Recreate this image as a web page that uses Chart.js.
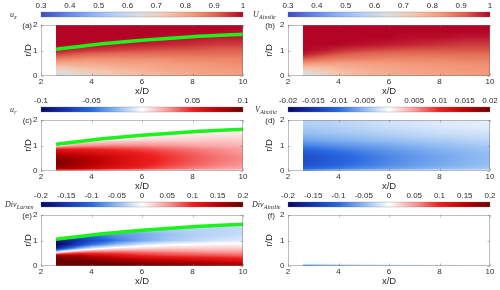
<!DOCTYPE html>
<html>
<head>
<meta charset="utf-8">
<script src="https://cdn.jsdelivr.net/npm/chart.js@4.4.1/dist/chart.umd.min.js"></script>
<style>
  html, body { margin: 0; padding: 0; background: #fff; }
  #fig { position: relative; width: 500px; height: 290px; overflow: hidden; }
  #fig canvas { position: absolute; }
</style>
</head>
<body>
<div id="fig"></div>
<script>
// grid the fields were read on (x/D columns, r/D rows)
const xGrid = [2.6, 3, 3.5, 4, 5, 6, 7, 8, 9, 10];
const rGrid = [0, 0.1, 0.25, 0.4, 0.55, 0.7, 0.85, 1, 1.25, 1.5, 1.75, 2];

// (a) u_z, Larsen
const uzLarsen = [
  [0.60, 0.63, 0.66, 0.69, 0.73, 0.76, 0.78, 0.80, 0.81, 0.82],
  [0.63, 0.65, 0.68, 0.70, 0.74, 0.76, 0.78, 0.80, 0.81, 0.82],
  [0.69, 0.70, 0.72, 0.74, 0.76, 0.78, 0.80, 0.81, 0.82, 0.83],
  [0.76, 0.76, 0.77, 0.77, 0.79, 0.80, 0.81, 0.82, 0.83, 0.84],
  [0.82, 0.81, 0.81, 0.81, 0.82, 0.82, 0.83, 0.84, 0.84, 0.85],
  [0.88, 0.87, 0.86, 0.85, 0.85, 0.85, 0.85, 0.86, 0.86, 0.86],
  [0.94, 0.93, 0.91, 0.90, 0.89, 0.89, 0.89, 0.89, 0.89, 0.89],
  [0.98, 0.97, 0.96, 0.95, 0.94, 0.93, 0.92, 0.92, 0.91, 0.91],
  [1, 1, 1, 1, 0.99, 0.98, 0.97, 0.96, 0.95, 0.95],
  [1, 1, 1, 1, 1, 1, 0.99, 0.99, 0.98, 0.98],
  [1, 1, 1, 1, 1, 1, 1, 1, 1, 0.99],
  [1, 1, 1, 1, 1, 1, 1, 1, 1, 1]
];
// (b) U, Ainslie
const uAinslie = [
  [0.60, 0.64, 0.69, 0.73, 0.77, 0.79, 0.80, 0.81, 0.82, 0.83],
  [0.64, 0.67, 0.71, 0.74, 0.77, 0.79, 0.80, 0.81, 0.82, 0.83],
  [0.71, 0.72, 0.74, 0.76, 0.78, 0.80, 0.81, 0.82, 0.83, 0.83],
  [0.79, 0.78, 0.78, 0.79, 0.80, 0.81, 0.82, 0.83, 0.83, 0.84],
  [0.86, 0.85, 0.84, 0.83, 0.83, 0.83, 0.84, 0.84, 0.85, 0.85],
  [0.93, 0.91, 0.89, 0.88, 0.87, 0.86, 0.86, 0.86, 0.87, 0.87],
  [0.98, 0.96, 0.94, 0.92, 0.90, 0.89, 0.89, 0.89, 0.89, 0.89],
  [1, 0.99, 0.98, 0.96, 0.94, 0.93, 0.92, 0.92, 0.92, 0.92],
  [1, 1, 1, 1, 0.99, 0.98, 0.97, 0.96, 0.95, 0.95],
  [1, 1, 1, 1, 1, 1, 0.99, 0.99, 0.98, 0.98],
  [1, 1, 1, 1, 1, 1, 1, 1, 1, 1],
  [1, 1, 1, 1, 1, 1, 1, 1, 1, 1]
];
// (c) u_r, Larsen
const urLarsen = [
  [0.010, 0.010, 0.008, 0.007, 0.005, 0.004, 0.003, 0.003, 0.002, 0.002],
  [0.085, 0.080, 0.074, 0.068, 0.056, 0.046, 0.038, 0.031, 0.026, 0.022],
  [0.095, 0.090, 0.083, 0.076, 0.064, 0.053, 0.044, 0.037, 0.031, 0.026],
  [0.095, 0.090, 0.084, 0.078, 0.066, 0.055, 0.046, 0.039, 0.033, 0.028],
  [0.088, 0.083, 0.079, 0.074, 0.064, 0.054, 0.046, 0.039, 0.033, 0.028],
  [0.074, 0.070, 0.067, 0.064, 0.057, 0.050, 0.043, 0.037, 0.031, 0.026],
  [0.055, 0.053, 0.052, 0.050, 0.046, 0.042, 0.037, 0.032, 0.028, 0.024],
  [0.006, 0.016, 0.024, 0.027, 0.029, 0.028, 0.026, 0.023, 0.021, 0.019],
  [0, 0, 0, 0.001, 0.004, 0.008, 0.010, 0.011, 0.012, 0.012],
  [0, 0, 0, 0, 0, 0.001, 0.002, 0.003, 0.004, 0.005],
  [0, 0, 0, 0, 0, 0, 0, 0, 0, 0],
  [0, 0, 0, 0, 0, 0, 0, 0, 0, 0]
];
// (d) V, Ainslie
const vAinslie = [
  [-0.006, -0.004, -0.003, -0.002, -0.001, -0.001, 0, 0, 0, 0],
  [-0.0105, -0.0101, -0.0095, -0.0089, -0.0078, -0.0068, -0.0059, -0.0051, -0.0045, -0.0039],
  [-0.0122, -0.0118, -0.0111, -0.0104, -0.0091, -0.0079, -0.0069, -0.0060, -0.0052, -0.0046],
  [-0.0126, -0.0122, -0.0115, -0.0108, -0.0094, -0.0082, -0.0071, -0.0062, -0.0054, -0.0047],
  [-0.0124, -0.0120, -0.0113, -0.0106, -0.0093, -0.0081, -0.0071, -0.0062, -0.0054, -0.0047],
  [-0.0116, -0.0112, -0.0106, -0.0100, -0.0088, -0.0077, -0.0068, -0.0059, -0.0052, -0.0045],
  [-0.0101, -0.0098, -0.0093, -0.0088, -0.0079, -0.0070, -0.0061, -0.0054, -0.0048, -0.0042],
  [-0.0085, -0.0082, -0.0078, -0.0074, -0.0067, -0.0060, -0.0053, -0.0047, -0.0042, -0.0037],
  [-0.0060, -0.0058, -0.0056, -0.0053, -0.0048, -0.0043, -0.0038, -0.0034, -0.0031, -0.0028],
  [-0.0045, -0.0044, -0.0042, -0.0040, -0.0036, -0.0031, -0.0027, -0.0023, -0.0021, -0.0019],
  [-0.0036, -0.0035, -0.0034, -0.0032, -0.0028, -0.0023, -0.0019, -0.0016, -0.0014, -0.0013],
  [-0.0032, -0.0031, -0.0030, -0.0028, -0.0024, -0.0020, -0.0016, -0.0013, -0.0012, -0.0011]
];
// (e) Div, Larsen (only drawn below the wake line)
const divLarsen = [
  [0.20, 0.20, 0.20, 0.20, 0.20, 0.20, 0.19, 0.18, 0.17, 0.16],
  [0.20, 0.20, 0.20, 0.20, 0.20, 0.19, 0.18, 0.17, 0.16, 0.15],
  [0.20, 0.20, 0.20, 0.19, 0.17, 0.15, 0.14, 0.13, 0.12, 0.11],
  [0.18, 0.17, 0.16, 0.14, 0.12, 0.10, 0.09, 0.085, 0.08, 0.075],
  [-0.02, 0.03, 0.06, 0.07, 0.07, 0.065, 0.06, 0.055, 0.05, 0.05],
  [-0.17, -0.12, -0.06, -0.02, 0.01, 0.02, 0.025, 0.025, 0.025, 0.025],
  [-0.20, -0.18, -0.14, -0.10, -0.05, -0.02, -0.005, 0, 0.005, 0.005],
  [-0.18, -0.17, -0.15, -0.13, -0.09, -0.06, -0.04, -0.03, -0.02, -0.015],
  [-0.12, -0.11, -0.10, -0.09, -0.07, -0.06, -0.045, -0.035, -0.03, -0.025],
  [-0.06, -0.05, -0.04, -0.035, -0.03, -0.03, -0.03, -0.03, -0.03, -0.025],
  [0, 0, 0, 0, 0, 0, 0, 0, 0, 0],
  [0, 0, 0, 0, 0, 0, 0, 0, 0, 0]
];
// (f) Div, Ainslie
const divAinslie = [
  [-0.08, -0.07, -0.055, -0.045, -0.03, -0.02, -0.012, -0.008, -0.005, -0.003],
  [-0.005, -0.004, -0.003, -0.002, -0.001, 0, 0, 0, 0, 0],
  [0, 0, 0, 0, 0, 0, 0, 0, 0, 0],
  [0, 0, 0, 0, 0, 0, 0, 0, 0, 0],
  [0, 0, 0, 0, 0, 0, 0, 0, 0, 0],
  [0, 0, 0, 0, 0, 0, 0, 0, 0, 0],
  [0, 0, 0, 0, 0, 0, 0, 0, 0, 0],
  [0, 0, 0, 0, 0, 0, 0, 0, 0, 0],
  [0, 0, 0, 0, 0, 0, 0, 0, 0, 0],
  [0, 0, 0, 0, 0, 0, 0, 0, 0, 0],
  [0, 0, 0, 0, 0, 0, 0, 0, 0, 0],
  [0, 0, 0, 0, 0, 0, 0, 0, 0, 0]
];

// wake boundary (green line)
const wakeX = [2.6, 4, 6, 8, 10];
const wakeR = [1.05, 1.22, 1.40, 1.54, 1.64];

// tick labels
const xTicks = [2, 4, 6, 8, 10];
const rTicks = [0, 1, 2];
const cbTicksU = [0.3, 0.4, 0.5, 0.6, 0.7, 0.8, 0.9, 1];
const cbTicksUr = [-0.1, -0.05, 0, 0.05, 0.1];
const cbTicksV = [-0.02, -0.015, -0.01, -0.005, 0, 0.005, 0.01, 0.015, 0.02];
const cbTicksDiv = [-0.2, -0.15, -0.1, -0.05, 0, 0.05, 0.1, 0.15, 0.2];

// colour maps
const coolwarm = [
  [0, 59, 76, 192], [0.125, 98, 130, 234], [0.25, 141, 176, 254], [0.375, 184, 208, 249],
  [0.5, 221, 221, 221], [0.625, 245, 196, 173], [0.75, 244, 154, 123], [0.875, 222, 96, 77], [1, 180, 4, 38]
];
const blueRed = [
  [0, 8, 8, 96], [0.125, 20, 50, 175], [0.25, 40, 105, 225], [0.375, 140, 185, 242],
  [0.5, 255, 255, 255], [0.625, 250, 155, 155], [0.75, 238, 30, 30], [0.875, 190, 0, 0], [1, 110, 0, 0]
];

const SANS = '"Liberation Sans", Arial, sans-serif';
const SERIF = '"Liberation Serif", "Times New Roman", serif';
const TXT = '#2b2b2b';

const panels = [
  { tag: '(a)', col: 0, row: 0, field: uzLarsen, range: [0.3, 1], stops: coolwarm, cb: cbTicksU, sym: ['u', 'z'], symX: 10, wake: true, mask: false },
  { tag: '(b)', col: 1, row: 0, field: uAinslie, range: [0.3, 1], stops: coolwarm, cb: cbTicksU, sym: ['U', 'Ainslie'], symX: 6, wake: false, mask: false },
  { tag: '(c)', col: 0, row: 1, field: urLarsen, range: [-0.1, 0.1], stops: blueRed, cb: cbTicksUr, sym: ['u', 'r'], symX: 10, wake: true, mask: true },
  { tag: '(d)', col: 1, row: 1, field: vAinslie, range: [-0.02, 0.02], stops: blueRed, cb: cbTicksV, sym: ['V', 'Ainslie'], symX: 8, wake: false, mask: false },
  { tag: '(e)', col: 0, row: 2, field: divLarsen, range: [-0.2, 0.2], stops: blueRed, cb: cbTicksDiv, sym: ['Div', 'Larsen'], symX: 5, wake: true, mask: true },
  { tag: '(f)', col: 1, row: 2, field: divAinslie, range: [-0.2, 0.2], stops: blueRed, cb: cbTicksDiv, sym: ['Div', 'Ainslie'], symX: 5, wake: false, mask: false }
];

function colour(stops, t) {
  t = Math.min(1, Math.max(0, t));
  let k = 0;
  while (k < stops.length - 2 && t > stops[k + 1][0]) k++;
  const a = stops[k], b = stops[k + 1];
  const f = (t - a[0]) / (b[0] - a[0]);
  return [1, 2, 3].map(i => Math.round(a[i] + (b[i] - a[i]) * f));
}

function cell(grid, v) {
  let k = 0;
  while (k < grid.length - 2 && v > grid[k + 1]) k++;
  const t = (v - grid[k]) / (grid[k + 1] - grid[k]);
  return [k, Math.min(1, Math.max(0, t))];
}

function sample(field, xv, rv) {
  const [i, tx] = cell(xGrid, xv);
  const [j, tr] = cell(rGrid, rv);
  const lo = field[j][i] * (1 - tx) + field[j][i + 1] * tx;
  const hi = field[j + 1][i] * (1 - tx) + field[j + 1][i + 1] * tx;
  return lo * (1 - tr) + hi * tr;
}

function wakeAt(xv) {
  const [i, t] = cell(wakeX, xv);
  return wakeR[i] * (1 - t) + wakeR[i + 1] * t;
}

function fieldPlugin(p) {
  return {
    id: 'field',
    beforeDatasetsDraw(chart) {
      const { ctx, scales: { x, y } } = chart;
      const left = Math.round(x.getPixelForValue(xGrid[0]));
      const right = Math.round(x.getPixelForValue(xGrid[xGrid.length - 1]));
      const top = Math.round(y.getPixelForValue(rGrid[rGrid.length - 1]));
      const bottom = Math.round(y.getPixelForValue(rGrid[0]));
      const w = right - left, h = bottom - top;
      const img = ctx.createImageData(w, h);
      for (let j = 0; j < h; j++) {
        const rv = y.getValueForPixel(top + j + 0.5);
        for (let i = 0; i < w; i++) {
          const xv = x.getValueForPixel(left + i + 0.5);
          const k = (j * w + i) * 4;
          if (p.mask && rv > wakeAt(xv)) continue;
          const v = sample(p.field, xv, rv);
          const c = colour(p.stops, (v - p.range[0]) / (p.range[1] - p.range[0]));
          img.data[k] = c[0]; img.data[k + 1] = c[1]; img.data[k + 2] = c[2]; img.data[k + 3] = 255;
        }
      }
      ctx.putImageData(img, left, top);
    },
    afterDatasetsDraw(chart) {
      const { ctx, chartArea: a, scales: { x, y } } = chart;
      ctx.save();
      ctx.strokeStyle = 'rgba(110,110,110,0.45)';
      ctx.lineWidth = 1;
      ctx.strokeRect(a.left + 0.5, a.top + 0.5, a.right - a.left - 1, a.bottom - a.top - 1);
      ctx.beginPath();
      x.ticks.forEach(t => {
        const px = Math.round(x.getPixelForValue(t.value)) + 0.5;
        ctx.moveTo(px, a.bottom); ctx.lineTo(px, a.bottom - 2.5);
        ctx.moveTo(px, a.top); ctx.lineTo(px, a.top + 2.5);
      });
      y.ticks.forEach(t => {
        const py = Math.round(y.getPixelForValue(t.value)) + 0.5;
        ctx.moveTo(a.left, py); ctx.lineTo(a.left + 2.5, py);
        ctx.moveTo(a.right, py); ctx.lineTo(a.right - 2.5, py);
      });
      ctx.stroke();
      ctx.fillStyle = TXT;
      ctx.font = '8px ' + SANS;
      ctx.textAlign = 'right';
      ctx.textBaseline = 'middle';
      ctx.fillText(p.tag, p.col === 0 ? 32 : 28, a.top + 0.5);
      ctx.restore();
    }
  };
}

function colourbarPlugin(p) {
  return {
    id: 'colourbar',
    beforeDatasetsDraw(chart) {
      const { ctx, chartArea: a, scales: { x } } = chart;
      for (let px = Math.round(a.left); px < Math.round(a.right); px++) {
        const c = colour(p.stops, (x.getValueForPixel(px + 0.5) - p.range[0]) / (p.range[1] - p.range[0]));
        ctx.fillStyle = 'rgb(' + c.join(',') + ')';
        ctx.fillRect(px, a.top, 1, a.bottom - a.top);
      }
      ctx.save();
      ctx.strokeStyle = 'rgba(120,120,120,0.5)';
      ctx.lineWidth = 0.6;
      ctx.strokeRect(a.left, a.top, a.right - a.left, a.bottom - a.top);
      ctx.restore();
    },
    afterDraw(chart) {
      const ctx = chart.ctx;
      ctx.save();
      ctx.fillStyle = TXT;
      ctx.textBaseline = 'alphabetic';
      ctx.textAlign = 'left';
      ctx.font = 'italic 8px ' + SERIF;
      ctx.fillText(p.sym[0], p.symX, 17);
      const w = ctx.measureText(p.sym[0]).width;
      ctx.font = 'italic 6px ' + SERIF;
      ctx.fillText(p.sym[1], p.symX + w + 0.3, 19);
      ctx.restore();
    }
  };
}

const fig = document.getElementById('fig');
function addCanvas(left, top, w, h) {
  const c = document.createElement('canvas');
  c.width = w; c.height = h;
  c.style.left = left + 'px'; c.style.top = top + 'px';
  c.style.width = w + 'px'; c.style.height = h + 'px';
  fig.appendChild(c);
  return c;
}

const tickFont = { family: SANS, size: 8, lineHeight: 1.2 };
const titleFont = { family: SANS, size: 9.5, lineHeight: 1.2 };
const noGrid = { display: false, drawTicks: false };

panels.forEach(p => {
  const left = p.col === 0 ? 0 : 247;
  const W = p.col === 0 ? 250 : 253;
  const top = p.row * 95;

  // colour bar
  new Chart(addCanvas(left, top, W, 20), {
    type: 'scatter',
    data: { datasets: [] },
    options: {
      responsive: false, animation: false, events: [],
      layout: { padding: { top: 0, bottom: 3, left: 41, right: W - 243 } },
      plugins: { legend: { display: false }, tooltip: { enabled: false } },
      scales: {
        x: {
          type: 'linear', position: 'top', min: p.range[0], max: p.range[1],
          grid: noGrid, border: { display: false },
          afterBuildTicks: s => { s.ticks = p.cb.map(v => ({ value: v })); },
          ticks: { font: tickFont, color: TXT, padding: 1.2, maxRotation: 0, autoSkip: false,
                   callback: v => String(+v.toFixed(4)) },
          afterFit: s => { s.height = 12; s.paddingLeft = 0; s.paddingRight = 0; }
        },
        y: { display: false, min: 0, max: 1 }
      }
    },
    plugins: [colourbarPlugin(p)]
  });

  // contour panel
  new Chart(addCanvas(left, top + 20, W, 78), {
    type: 'scatter',
    data: {
      datasets: p.wake ? [{
        data: wakeX.map((x, i) => ({ x: x, y: wakeR[i] })),
        showLine: true, borderColor: '#1cf21c', borderWidth: 3.5,
        pointRadius: 0, cubicInterpolationMode: 'monotone'
      }] : []
    },
    options: {
      responsive: false, animation: false, events: [],
      layout: { padding: { top: 5, right: W - 243, left: 0, bottom: 0 } },
      plugins: { legend: { display: false }, tooltip: { enabled: false } },
      scales: {
        x: {
          type: 'linear', min: 2, max: 10,
          grid: noGrid, border: { display: false },
          afterBuildTicks: s => { s.ticks = xTicks.map(v => ({ value: v })); },
          ticks: { font: tickFont, color: TXT, padding: 1.2, maxRotation: 0, autoSkip: false },
          title: { display: true, text: 'x/D', font: titleFont, color: TXT, padding: { top: 0, bottom: 0.6 } },
          afterFit: s => { s.height = 22; s.paddingLeft = 0; s.paddingRight = 0; }
        },
        y: {
          type: 'linear', min: 0, max: 2,
          grid: noGrid, border: { display: false },
          afterBuildTicks: s => { s.ticks = rTicks.map(v => ({ value: v })); },
          ticks: { font: tickFont, color: TXT, padding: 3.5, autoSkip: false },
          title: { display: true, text: 'r/D', font: titleFont, color: TXT,
                   padding: { top: p.col === 0 ? 22.3 : 16.3, bottom: 0 } },
          afterFit: s => { s.width = 41; s.paddingTop = 0; s.paddingBottom = 0; }
        }
      }
    },
    plugins: [fieldPlugin(p)]
  });
});
</script>
</body>
</html>
